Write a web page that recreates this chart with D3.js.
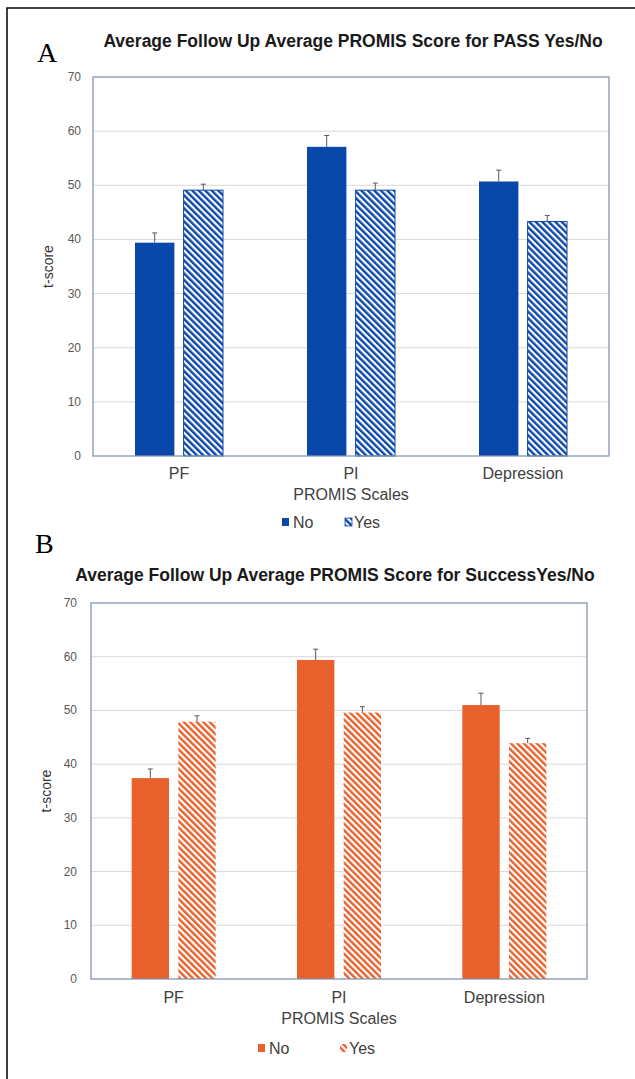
<!DOCTYPE html>
<html>
<head>
<meta charset="utf-8">
<script src="https://cdn.jsdelivr.net/npm/d3@7"></script>
<style>
  body { margin: 0; background: #fff; }
  svg { display: block; font-family: "Liberation Sans", Arial, sans-serif; }
</style>
</head>
<body>
<svg id="fig" width="635" height="1079"></svg>
<script>
// Datos
const scales = ["PF", "PI", "Depression"];
const groups = ["No", "Yes"];
const yTicks = [0, 10, 20, 30, 40, 50, 60, 70];

// Panel A: PASS
const passNo = [39.4, 57.1, 50.7];
const passNoErr = [1.8, 2.1, 2.1];
const passYes = [49.1, 49.1, 43.3];
const passYesErr = [1.1, 1.3, 1.1];

// Panel B: Success
const succNo = [37.4, 59.4, 51.0];
const succNoErr = [1.7, 2.0, 2.2];
const succYes = [47.9, 49.6, 43.9];
const succYesErr = [1.1, 1.1, 0.9];

const svg = d3.select("#fig");
const defs = svg.append("defs");

// marco exterior (solo izquierda y arriba visibles)
svg.append("path")
  .attr("d", "M7,1079 V8 H635")
  .attr("fill", "none")
  .attr("stroke", "#000")
  .attr("stroke-width", 1.5);

function makeHatch(id, color) {
  const p = defs.append("pattern")
    .attr("id", id)
    .attr("patternUnits", "userSpaceOnUse")
    .attr("width", 4.6)
    .attr("height", 4.6)
    .attr("patternTransform", "rotate(-45)");
  p.append("rect").attr("width", 4.6).attr("height", 4.6).attr("fill", "#fff");
  p.append("rect").attr("width", 2.4).attr("height", 4.6).attr("fill", color);
}

function drawPanel(cfg) {
  const g = svg.append("g");
  const { left, right, top, bottom } = cfg;

  const y = d3.scaleLinear().domain([0, 70]).range([bottom, top]);
  const x0 = d3.scaleBand().domain(scales).range([left, right]);
  const bw = x0.bandwidth();
  const x1 = d3.scaleBand().domain(groups)
    .range([bw / 2 - cfg.groupW / 2, bw / 2 + cfg.groupW / 2])
    .paddingInner(cfg.pad);

  // rejilla
  g.selectAll(".grid")
    .data(yTicks.filter(t => t > 0 && t < 70))
    .enter().append("line")
    .attr("x1", left).attr("x2", right)
    .attr("y1", d => y(d)).attr("y2", d => y(d))
    .attr("stroke", "#d9d9d9").attr("stroke-width", 1);

  // etiquetas eje y
  g.selectAll(".ytick")
    .data(yTicks)
    .enter().append("text")
    .attr("x", left - cfg.tickGap)
    .attr("y", d => y(d) + 4)
    .attr("text-anchor", "end")
    .attr("font-size", 12)
    .attr("fill", "#595959")
    .text(d => d);

  const rows = [];
  scales.forEach((s, i) => {
    rows.push({ scale: s, grp: "No", v: cfg.no[i], e: cfg.noErr[i] });
    rows.push({ scale: s, grp: "Yes", v: cfg.yes[i], e: cfg.yesErr[i] });
  });

  // barras
  g.selectAll(".bar")
    .data(rows)
    .enter().append("rect")
    .attr("x", d => x0(d.scale) + x1(d.grp))
    .attr("y", d => y(d.v))
    .attr("width", x1.bandwidth())
    .attr("height", d => bottom - y(d.v))
    .attr("fill", d => d.grp === "No" ? cfg.color : `url(#${cfg.hatch})`)
    .attr("stroke", d => d.grp === "Yes" && cfg.yesBorder ? cfg.color : "none")
    .attr("stroke-width", 1);

  // barras de error
  const err = g.selectAll(".err").data(rows).enter().append("g")
    .attr("stroke", "#595959").attr("stroke-width", 1);
  err.append("line")
    .attr("x1", d => x0(d.scale) + x1(d.grp) + x1.bandwidth() / 2)
    .attr("x2", d => x0(d.scale) + x1(d.grp) + x1.bandwidth() / 2)
    .attr("y1", d => y(d.v))
    .attr("y2", d => y(d.v + d.e));
  err.append("line")
    .attr("x1", d => x0(d.scale) + x1(d.grp) + x1.bandwidth() / 2 - 2.5)
    .attr("x2", d => x0(d.scale) + x1(d.grp) + x1.bandwidth() / 2 + 2.5)
    .attr("y1", d => y(d.v + d.e))
    .attr("y2", d => y(d.v + d.e));

  // marco del área
  g.append("rect")
    .attr("x", left).attr("y", top)
    .attr("width", right - left).attr("height", bottom - top)
    .attr("fill", "none").attr("stroke", "#8496b0").attr("stroke-width", 1.3);

  // etiquetas eje x
  g.selectAll(".xlab")
    .data(scales)
    .enter().append("text")
    .attr("x", d => x0(d) + bw / 2)
    .attr("y", cfg.xLabY)
    .attr("text-anchor", "middle")
    .attr("font-size", 16)
    .attr("fill", "#404040")
    .text(d => d);

  g.append("text")
    .attr("x", (left + right) / 2)
    .attr("y", cfg.xLabY + 21)
    .attr("text-anchor", "middle")
    .attr("font-size", 16)
    .attr("fill", "#404040")
    .text("PROMIS Scales");

  g.append("text")
    .attr("transform", `translate(${cfg.yLabX},${(top + bottom) / 2}) rotate(-90)`)
    .attr("text-anchor", "middle")
    .attr("font-size", 14)
    .attr("fill", "#333")
    .text("t-score");

  // título
  g.append("text")
    .attr("x", cfg.titleX)
    .attr("y", cfg.titleY)
    .attr("text-anchor", "middle")
    .attr("font-size", 17.5)
    .attr("font-weight", "bold")
    .attr("fill", "#1a1a1a")
    .text(cfg.title);

  // letra del panel
  g.append("text")
    .attr("x", cfg.letterX)
    .attr("y", cfg.letterY)
    .attr("font-family", "Liberation Serif, Times New Roman, serif")
    .attr("font-size", 28)
    .attr("fill", "#000")
    .text(cfg.letter);

  // leyenda
  const lg = g.append("g");
  lg.append("rect")
    .attr("x", cfg.legNoX).attr("y", cfg.legY - 10)
    .attr("width", 7).attr("height", 8)
    .attr("fill", cfg.color);
  lg.append("text")
    .attr("x", cfg.legNoX + 11).attr("y", cfg.legY)
    .attr("font-size", 16).attr("fill", "#404040")
    .text("No");
  lg.append("rect")
    .attr("x", cfg.legYesX).attr("y", cfg.legY - 10)
    .attr("width", 7).attr("height", 8)
    .attr("fill", `url(#${cfg.hatch})`)
    .attr("stroke", cfg.yesBorder ? cfg.color : "none").attr("stroke-width", 0.8);
  lg.append("text")
    .attr("x", cfg.legYesX + 9).attr("y", cfg.legY)
    .attr("font-size", 16).attr("fill", "#404040")
    .text("Yes");
}

makeHatch("hatchBlue", "#0a47aa");
makeHatch("hatchOrange", "#e8602c");

drawPanel({
  left: 93, right: 609, top: 77, bottom: 456,
  groupW: 88, pad: 0.19, tickGap: 12,
  no: passNo, noErr: passNoErr, yes: passYes, yesErr: passYesErr,
  color: "#0a47aa", hatch: "hatchBlue", yesBorder: true,
  xLabY: 479, yLabX: 53,
  title: "Average Follow Up Average PROMIS Score for PASS Yes/No",
  titleX: 353, titleY: 47,
  letter: "A", letterX: 37, letterY: 62,
  legY: 528, legNoX: 282, legYesX: 345
});

drawPanel({
  left: 91, right: 587, top: 603, bottom: 979,
  groupW: 84, pad: 0.2, tickGap: 14,
  no: succNo, noErr: succNoErr, yes: succYes, yesErr: succYesErr,
  color: "#e8602c", hatch: "hatchOrange", yesBorder: false,
  xLabY: 1003, yLabX: 51,
  title: "Average Follow Up Average PROMIS Score for SuccessYes/No",
  titleX: 335, titleY: 581,
  letter: "B", letterX: 35, letterY: 553,
  legY: 1054, legNoX: 258, legYesX: 340
});
</script>
</body>
</html>
